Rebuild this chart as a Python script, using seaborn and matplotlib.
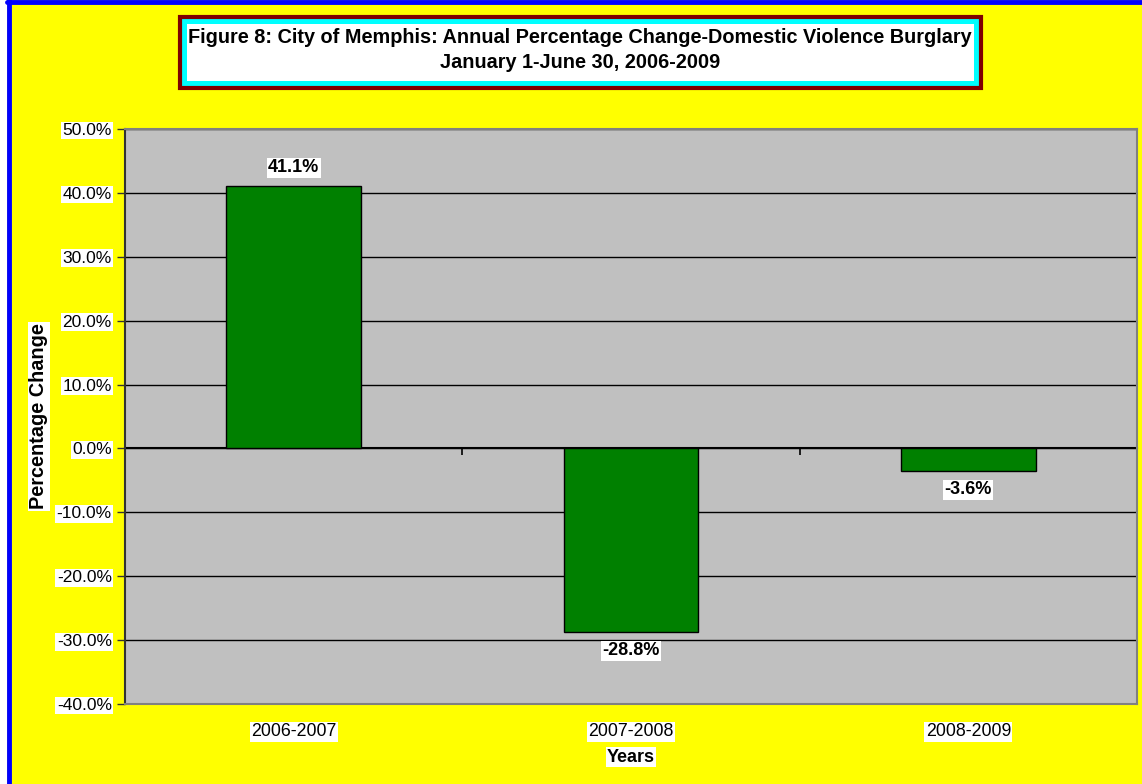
import matplotlib
matplotlib.use("Agg")
import matplotlib.pyplot as plt
from matplotlib.patches import Rectangle
from matplotlib.lines import Line2D
import seaborn as sns
import pandas as pd

# data
YEARS = ["2006-2007", "2007-2008", "2008-2009"]
PCT_CHANGE = [41.1, -28.8, -3.6]
Y_TICKS = [50, 40, 30, 20, 10, 0, -10, -20, -30, -40]

TITLE = ("Figure 8: City of Memphis: Annual Percentage Change-Domestic Violence Burglary\n"
         "January 1-June 30, 2006-2009")

df = pd.DataFrame({"Years": YEARS, "Change": PCT_CHANGE})

sns.set_style("white")
plt.rcParams["font.family"] = ["Liberation Sans", "DejaVu Sans"]
plt.rcParams["text.color"] = "black"
plt.rcParams["xtick.color"] = "black"
plt.rcParams["ytick.color"] = "black"
plt.rcParams["axes.labelcolor"] = "black"

fig = plt.figure(figsize=(11.42, 7.84), dpi=100)
fig.patch.set_facecolor("#FFFF00")
ax = fig.add_axes([125 / 1142, 80 / 784, 1012 / 1142, 575 / 784])
ax.set_facecolor("#C0C0C0")

sns.barplot(data=df, x="Years", y="Change", color="#008000", saturation=1,
            width=0.4, edgecolor="black", linewidth=1, ax=ax, zorder=3)

ax.set_ylim(-40, 50)
ax.set_xlim(-0.5, 2.5)
ax.set_yticks(Y_TICKS)
ax.set_yticklabels([f"{t:.1f}%" for t in Y_TICKS], fontsize=12.5)
ax.yaxis.grid(True, color="black", linewidth=1)
ax.set_axisbelow(True)
ax.tick_params(axis="y", direction="out", length=6, width=1, color="#333333", left=True, pad=3.5)
ax.tick_params(axis="x", length=0, labelsize=12.8, pad=14)

for sp in ["top", "right", "bottom"]:
    ax.spines[sp].set_color("#808080")
    ax.spines[sp].set_linewidth(1.5)
ax.spines["left"].set_color("#333333")
ax.spines["left"].set_linewidth(1.5)

# category axis crosses at zero
zero_frac = 40 / 90
sec = ax.secondary_xaxis(zero_frac)
sec.set_xticks([0.5, 1.5])
sec.set_xticklabels(["", ""])
sec.xaxis.set_ticks_position("bottom")
sec.tick_params(direction="out", length=5, width=1.2, color="black")
sec.spines["bottom"].set_color("black")
sec.spines["bottom"].set_linewidth(1.5)
sec.spines["top"].set_visible(False)

ax.set_xlabel("Years", fontsize=13, fontweight="bold", labelpad=6,
              bbox=dict(facecolor="white", edgecolor="none", pad=1))
ax.set_ylabel("Percentage Change", fontsize=14.3, fontweight="bold", labelpad=6,
              bbox=dict(facecolor="white", edgecolor="none", pad=1))

for lbl in ax.get_yticklabels() + ax.get_xticklabels():
    lbl.set_bbox(dict(facecolor="white", edgecolor="none", pad=1))

ax.bar_label(ax.containers[0], labels=[f"{v:.1f}%" for v in PCT_CHANGE],
             padding=7, fontsize=13, fontweight="bold",
             bbox=dict(facecolor="white", edgecolor="none", pad=1))

# title box: dark red frame, cyan ring, white inside
fig.patches.append(Rectangle((180 / 1142, 1 - 88 / 784), 801 / 1142, 71 / 784,
                             transform=fig.transFigure, facecolor="#00FFFF",
                             edgecolor="#800000", linewidth=3, zorder=1))
fig.patches.append(Rectangle((187 / 1142, 1 - 81 / 784), 787 / 1142, 57 / 784,
                             transform=fig.transFigure, facecolor="white",
                             edgecolor="none", zorder=2))
fig.text(580 / 1142, 1 - 50 / 784, TITLE, ha="center", va="center",
         fontsize=14.3, fontweight="bold", linespacing=1.35, zorder=3)

# outer border, cropped at the right and bottom
fig.patches.append(Rectangle((0, 0), 7 / 1142, 1, transform=fig.transFigure,
                             facecolor="white", edgecolor="none"))
fig.lines.append(Line2D([9 / 1142, 9 / 1142], [0, 1], transform=fig.transFigure,
                        color="#0000FF", linewidth=3.5))
fig.lines.append(Line2D([7 / 1142, 1], [1 - 2 / 784, 1 - 2 / 784], transform=fig.transFigure,
                        color="#0000FF", linewidth=3.5))

fig.savefig("out.png", dpi=100, facecolor=fig.get_facecolor())
